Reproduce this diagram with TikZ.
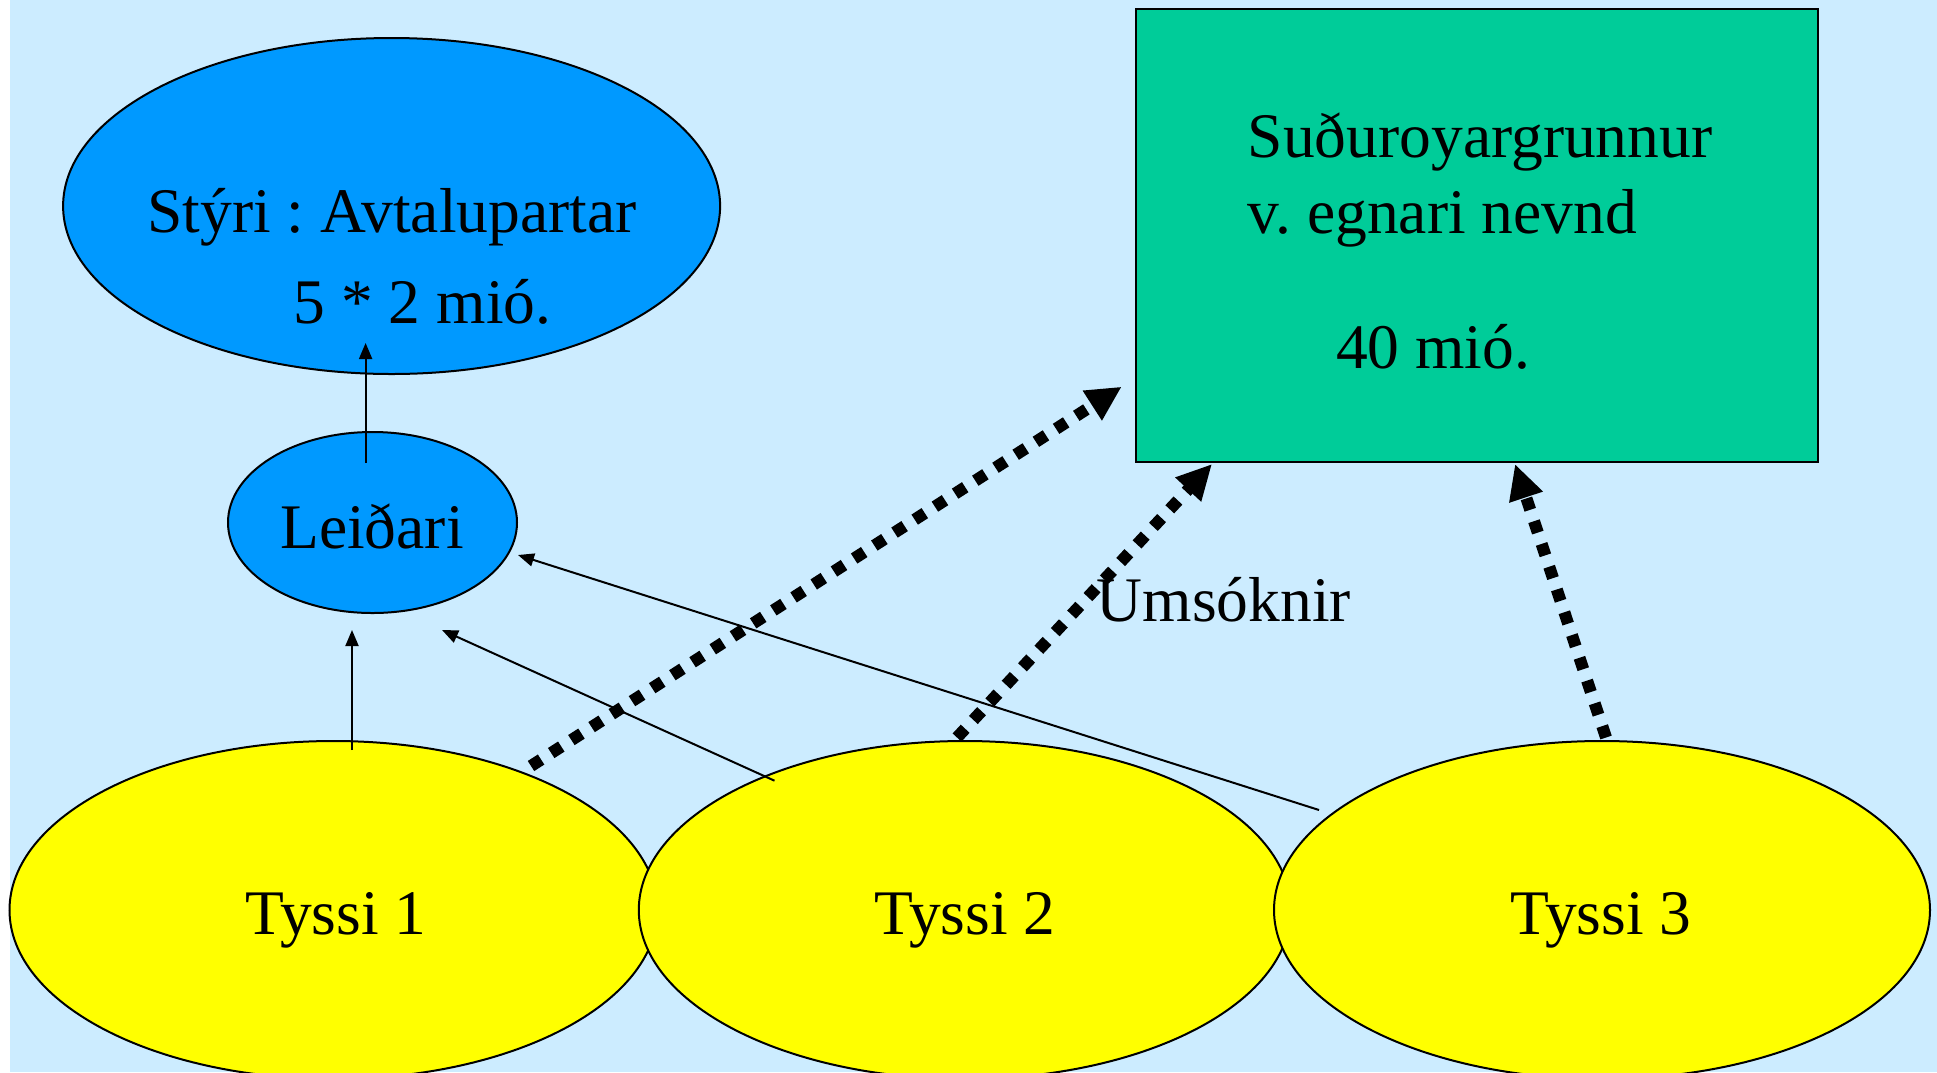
\documentclass[tikz,border=0pt]{standalone}
\usepackage{fontspec}
\setmainfont{Liberation Serif}
\usetikzlibrary{shapes.geometric,arrows.meta}
\definecolor{bgblue}{HTML}{CCECFF}
\definecolor{midblue}{HTML}{0099FF}
\definecolor{boxgreen}{HTML}{00CC99}
\definecolor{tyellow}{HTML}{FFFF00}
\tikzset{
  bubble/.style={ellipse, draw=black, line width=2pt, inner sep=0pt},
  lbl/.style={inner sep=0pt, font=\fontsize{63.5}{70}\selectfont, anchor=base},
  thinarrow/.style={line width=2pt, -{Triangle[length=16pt,width=13pt]}},
  dotarrow/.style={line width=12pt, dash pattern=on 12pt off 12pt, -{Triangle[length=35pt,width=33pt]}}
}
\frenchspacing
\begin{document}
\begin{tikzpicture}[x=1pt,y=-1pt]
\useasboundingbox (0,0) rectangle (1937,1072);
\fill[bgblue] (10,0) rectangle (1937,1072);
% shapes
\node[bubble, fill=midblue, minimum width=657pt, minimum height=336pt] (styri) at (391.6,206) {};
\node[bubble, fill=midblue, minimum width=289pt, minimum height=181pt] (leidari) at (372.5,522.5) {};
\node[draw=black, line width=2pt, fill=boxgreen, minimum width=681.5pt, minimum height=453pt, inner sep=0pt] (grunnur) at (1477.2,235.3) {};
\node[bubble, fill=tyellow, minimum width=648pt, minimum height=338pt] (t1) at (333.5,910) {};
\node[bubble, fill=tyellow, minimum width=652pt, minimum height=338pt] (t2) at (964.8,910) {};
\node[bubble, fill=tyellow, minimum width=656pt, minimum height=338pt] (t3) at (1602,910) {};
% texts
\node[lbl] (styriA) at (392,232) {Stýri : Avtalupartar};
\node[lbl] (styriB) at (422.5,323.6) {5 * 2 mió.};
\node[lbl] (leidT) at (372,548.5) {Leiðari};
\node[lbl, anchor=base west] (grA) at (1247.7,157) {Suðuroyargrunnur};
\node[lbl, anchor=base west] (grB) at (1247.7,233.5) {v. egnari nevnd};
\node[lbl] (grC) at (1433,368) {40 mió.};
\node[lbl] (t1T) at (336,934) {Tyssi 1};
\node[lbl] (t2T) at (965,934) {Tyssi 2};
\node[lbl] (t3T) at (1601,934) {Tyssi 3};
\node[lbl, anchor=base west] (ums) at (1096.7,621.7) {Umsóknir};
% connector end points
\coordinate (a1s) at (365.6,463);
\coordinate (a1e) at (365.6,343);
\coordinate (a2s) at (352,750);
\coordinate (a2e) at (352,630);
\coordinate (a3s) at (774.5,780.7);
\coordinate (a3e) at (442,630);
\coordinate (a4s) at (1319,810);
\coordinate (a4e) at (518,555);
\coordinate (d1s) at (531,766);
\coordinate (d1e) at (1121.7,386.7);
\coordinate (d2s) at (957,737.5);
\coordinate (d2e) at (1212,464);
\coordinate (d3s) at (1606,737.5);
\coordinate (d3e) at (1515,464);
% connectors
\draw[thinarrow] (a1s) -- (a1e);
\draw[thinarrow] (a2s) -- (a2e);
\draw[thinarrow] (a3s) -- (a3e);
\draw[thinarrow] (a4s) -- (a4e);
\draw[dotarrow] (d1s) -- (d1e);
\draw[dotarrow] (d2s) -- (d2e);
\draw[dotarrow] (d3s) -- (d3e);
\end{tikzpicture}
\end{document}
